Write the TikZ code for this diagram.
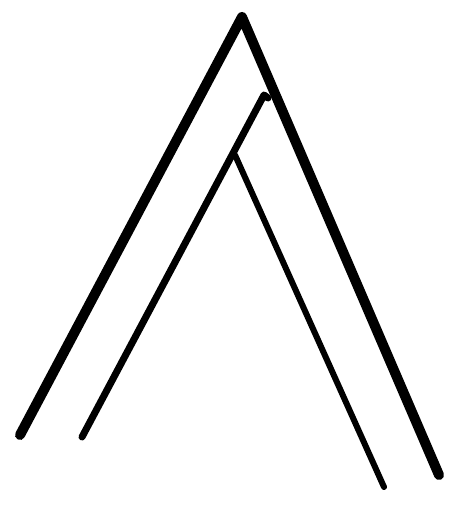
\documentclass[tikz,border=0pt]{standalone}

\begin{document}
\begin{tikzpicture}[x=1pt,y=-1pt]
        \tikzstyle{stroke}=[line cap=round,line join=round]
        \tikzstyle{outer}=[stroke,line width=10pt]
        \tikzstyle{inner}=[stroke,line width=7pt]
        \useasboundingbox (0,0) rectangle (464,510);
        \coordinate (outerleft) at (20,435);
        \coordinate (apex) at (242,17);
        \coordinate (outerright) at (439,475);
        \coordinate (innerleft) at (82,437);
        \coordinate (innertop) at (264,95);
        \coordinate (hook) at (268,98);
        \coordinate (fork) at (235,155);
        \coordinate (innerright) at (384,487);
        \draw[outer] (outerleft) -- (apex) -- (outerright);
        \draw[inner] (innerleft) -- (innertop) -- (hook);
        \draw[inner,line width=6pt] (fork) -- (innerright);
\end{tikzpicture}
\end{document}
